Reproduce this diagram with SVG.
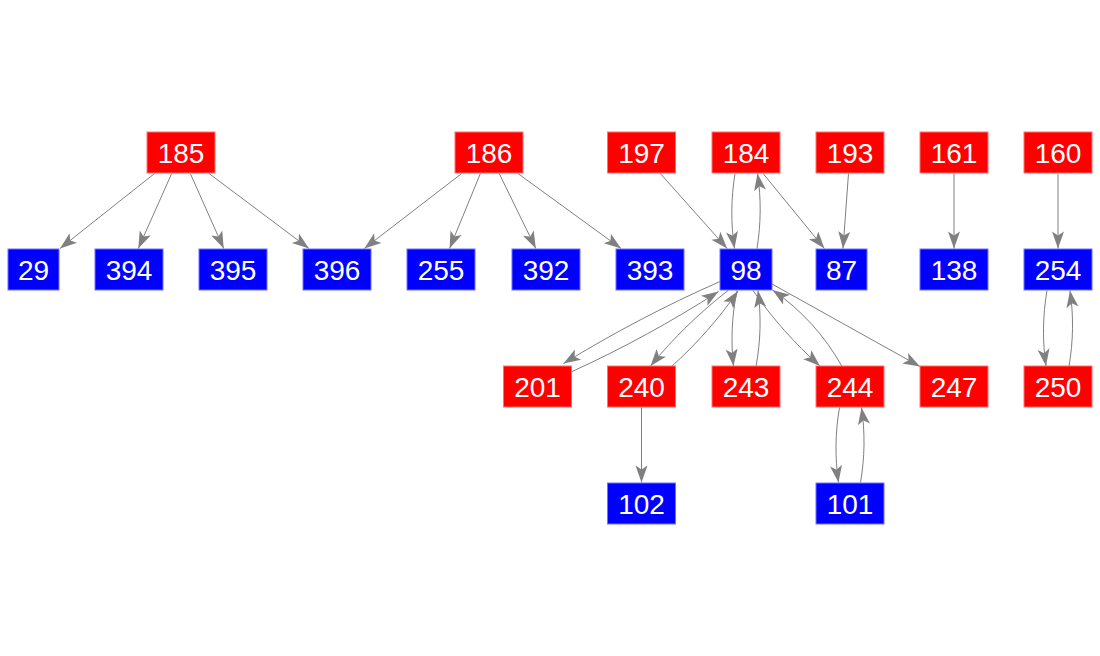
<svg xmlns="http://www.w3.org/2000/svg" width="1100" height="656" viewBox="0 0 1100 656">
<style>
.r{fill:#ff0000;stroke:#ff7070;stroke-width:1}
.b{fill:#0000ff;stroke:#7070ff;stroke-width:1}
text{font-family:"Liberation Sans",Arial,sans-serif;font-size:28px;fill:#ffffff;text-anchor:middle}
.e path{fill:none;stroke:#808080;stroke-width:1;marker-end:url(#ah)}
</style>
<defs>
<marker id="ah" markerUnits="userSpaceOnUse" viewBox="-19 -7 20 14" refX="0" refY="0" markerWidth="20" markerHeight="14" orient="auto">
<path d="M0,0 L-17,-6 L-13,0 L-17,6 Z" fill="#808080"/>
</marker>
</defs>
<rect width="1100" height="656" fill="#ffffff"/>
<g class="e" id="edges">
<path d="M154.5,173.5 L60,248.5"/>
<path d="M171.7,173.5 L138.3,248.5"/>
<path d="M190.3,173.5 L223.7,248.5"/>
<path d="M209,173.5 L309,248.5"/>
<path d="M461.7,173.5 L364.3,248.5"/>
<path d="M480.4,173.5 L449.6,248.5"/>
<path d="M499.2,173.5 L535.8,248.5"/>
<path d="M517.9,173.5 L621.1,248.5"/>
<path d="M660.3,173.5 L727.2,248.5"/>
<path d="M735,173.5 C731,198.5 730.7,223.5 734.5,248.5"/>
<path d="M757,248.5 C761,223.5 761.3,198.5 757.5,173.5"/>
<path d="M763.1,173.5 L824.4,248.5"/>
<path d="M848.5,173.5 L843,248.5"/>
<path d="M954,173.5 L954,248.5"/>
<path d="M1058,173.5 L1058,248.5"/>
<path d="M720,281.5 C665.9,305.3 613.8,332.7 563.5,363.5"/>
<path d="M571.7,371.7 C622.5,348.5 671.3,321.9 718.5,291.5"/>
<path d="M728,290.5 C699.4,312.8 673.5,337.9 650.5,366"/>
<path d="M671.5,366.5 C696.7,343.9 718.8,318.8 738,291"/>
<path d="M737,290.5 C731.8,315.7 730.7,340.8 733.5,366"/>
<path d="M756,366.5 C760.7,341.2 761.3,315.8 758,290.5"/>
<path d="M753,290.5 C772.3,318.4 794.7,343.5 820,366"/>
<path d="M842,366.5 C824.7,335.6 801.6,310.1 772.5,290"/>
<path d="M772,284 L920,366.5"/>
<path d="M641.5,407.5 L641.5,482.5"/>
<path d="M839.5,407.5 C835.2,432.5 834.8,457.5 838.5,482.5"/>
<path d="M860.5,482.5 C864.8,457.5 865.2,432.5 861.5,407.5"/>
<path d="M1047,290.5 C1042.7,315.7 1042.3,340.8 1046,366"/>
<path d="M1069,366.5 C1073.3,341.2 1073.7,315.8 1070,290.5"/>
</g>
<g id="n185"><rect class="r" x="147" y="132" width="68" height="41"/><text x="181" y="163">185</text></g>
<g id="n186"><rect class="r" x="455" y="132" width="68" height="41"/><text x="489" y="163">186</text></g>
<g id="n197"><rect class="r" x="607.5" y="132" width="68" height="41"/><text x="641.5" y="163">197</text></g>
<g id="n184"><rect class="r" x="712" y="132" width="68" height="41"/><text x="746" y="163">184</text></g>
<g id="n193"><rect class="r" x="816" y="132" width="68" height="41"/><text x="850" y="163">193</text></g>
<g id="n161"><rect class="r" x="920" y="132" width="68" height="41"/><text x="954" y="163">161</text></g>
<g id="n160"><rect class="r" x="1024" y="132" width="68" height="41"/><text x="1058" y="163">160</text></g>
<g id="n29"><rect class="b" x="8" y="249" width="51" height="41"/><text x="33.5" y="280">29</text></g>
<g id="n394"><rect class="b" x="95" y="249" width="68" height="41"/><text x="129" y="280">394</text></g>
<g id="n395"><rect class="b" x="199" y="249" width="68" height="41"/><text x="233" y="280">395</text></g>
<g id="n396"><rect class="b" x="303" y="249" width="68" height="41"/><text x="337" y="280">396</text></g>
<g id="n255"><rect class="b" x="407" y="249" width="68" height="41"/><text x="441" y="280">255</text></g>
<g id="n392"><rect class="b" x="512" y="249" width="68" height="41"/><text x="546" y="280">392</text></g>
<g id="n393"><rect class="b" x="616" y="249" width="68" height="41"/><text x="650" y="280">393</text></g>
<g id="n98"><rect class="b" x="720" y="249" width="52" height="41"/><text x="746" y="280">98</text></g>
<g id="n87"><rect class="b" x="816" y="249" width="51" height="41"/><text x="841.5" y="280">87</text></g>
<g id="n138"><rect class="b" x="920" y="249" width="68" height="41"/><text x="954" y="280">138</text></g>
<g id="n254"><rect class="b" x="1024" y="249" width="68" height="41"/><text x="1058" y="280">254</text></g>
<g id="n201"><rect class="r" x="503.5" y="366" width="68" height="41"/><text x="537.5" y="397">201</text></g>
<g id="n240"><rect class="r" x="607.5" y="366" width="68" height="41"/><text x="641.5" y="397">240</text></g>
<g id="n243"><rect class="r" x="712" y="366" width="68" height="41"/><text x="746" y="397">243</text></g>
<g id="n244"><rect class="r" x="816" y="366" width="68" height="41"/><text x="850" y="397">244</text></g>
<g id="n247"><rect class="r" x="920" y="366" width="68" height="41"/><text x="954" y="397">247</text></g>
<g id="n250"><rect class="r" x="1024" y="366" width="68" height="41"/><text x="1058" y="397">250</text></g>
<g id="n102"><rect class="b" x="607.5" y="483" width="68" height="41"/><text x="641.5" y="514">102</text></g>
<g id="n101"><rect class="b" x="816" y="483" width="68" height="41"/><text x="850" y="514">101</text></g>
</svg>
